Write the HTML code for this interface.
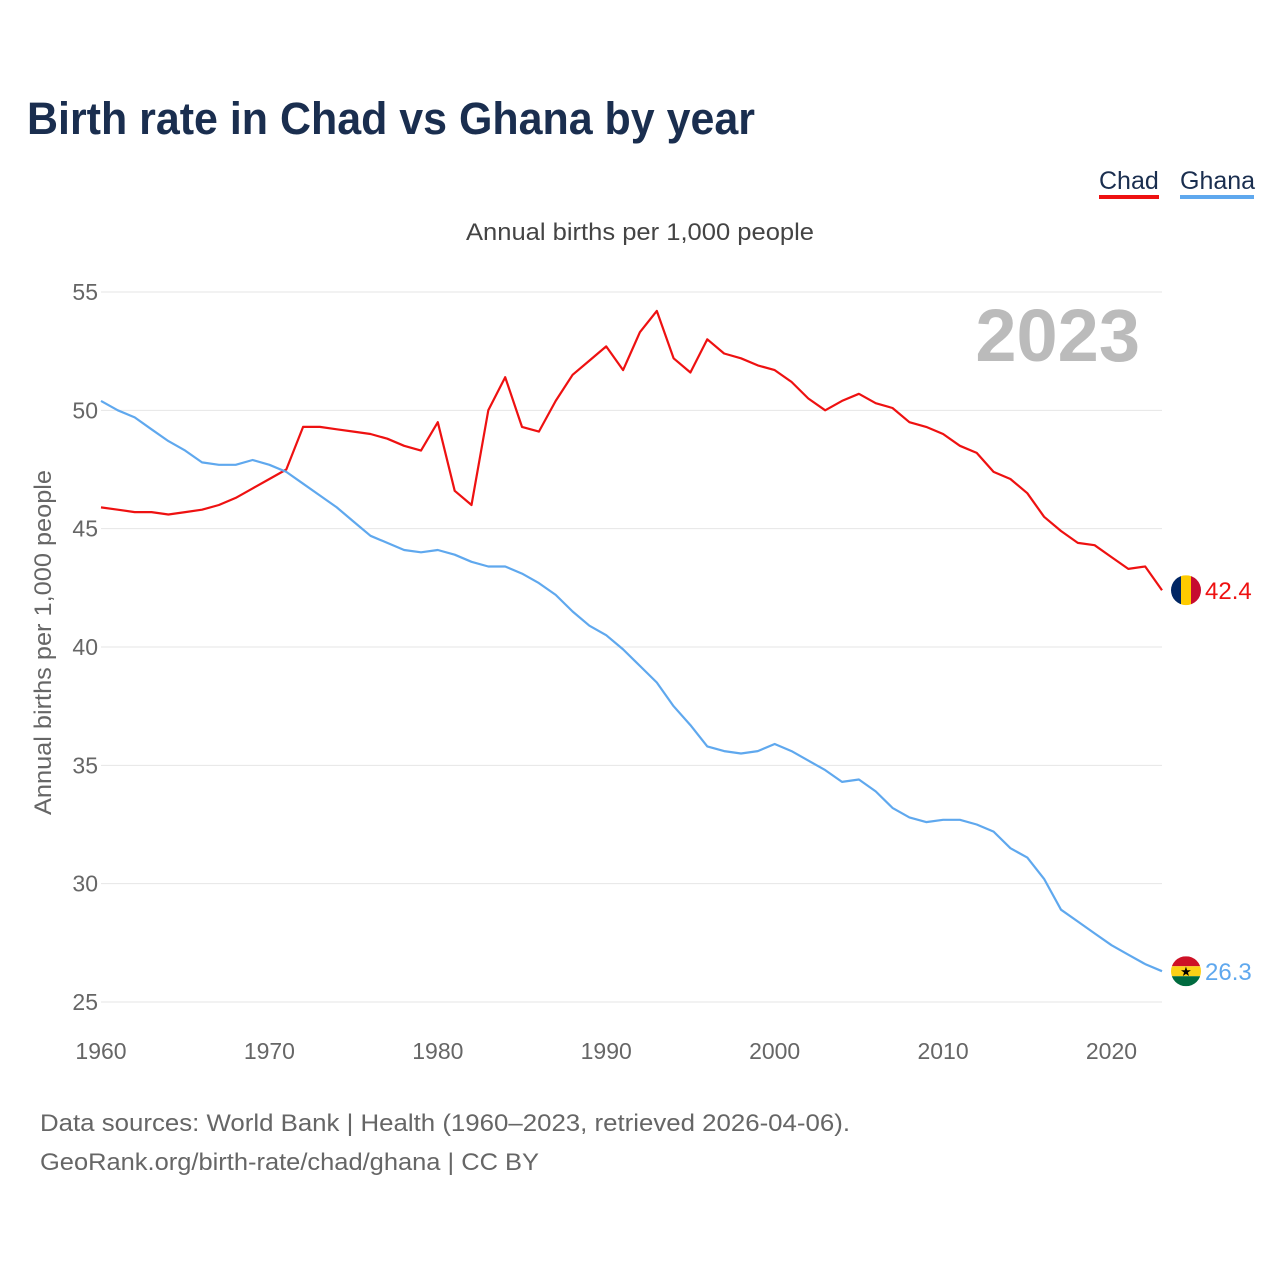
<!DOCTYPE html>
<html><head><meta charset="utf-8">
<style>
body{margin:0;background:#fff;font-family:"Liberation Sans",sans-serif;}
svg text{font-family:"Liberation Sans",sans-serif;}
</style></head>
<body>
<svg id="chart" width="1280" height="1280" viewBox="0 0 1280 1280" xmlns="http://www.w3.org/2000/svg">
<rect width="1280" height="1280" fill="#fff"/>
<text x="27" y="134" font-size="45" font-weight="bold" fill="#1a2e4f" textLength="728" lengthAdjust="spacingAndGlyphs">Birth rate in Chad vs Ghana by year</text>
<text x="1099" y="189" font-size="25" fill="#1a2e4f">Chad</text>
<rect x="1099" y="195" width="60" height="4" fill="#ee1111"/>
<text x="1180" y="189" font-size="25" fill="#1a2e4f">Ghana</text>
<rect x="1180" y="195" width="74" height="4" fill="#5fa8ee"/>
<text x="466" y="240" font-size="24" fill="#444" textLength="348" lengthAdjust="spacingAndGlyphs">Annual births per 1,000 people</text>
<text transform="translate(51,815) rotate(-90)" font-size="24" fill="#666" textLength="345" lengthAdjust="spacingAndGlyphs">Annual births per 1,000 people</text>
<text x="1140" y="361" font-size="74" font-weight="bold" fill="#bbb" text-anchor="end">2023</text>
<g id="grid"></g><g id="series"></g>
<text x="40" y="1131" font-size="24" fill="#666" textLength="810" lengthAdjust="spacingAndGlyphs">Data sources: World Bank | Health (1960–2023, retrieved 2026-04-06).</text>
<text x="40" y="1170" font-size="24" fill="#666" textLength="499" lengthAdjust="spacingAndGlyphs">GeoRank.org/birth-rate/chad/ghana | CC BY</text>
</svg>
<script>
const years = Array.from({length:64},(_,i)=>1960+i);
const chad = [45.9,45.8,45.7,45.7,45.6,45.7,45.8,46.0,46.3,46.7,47.1,47.5,49.3,49.3,49.2,49.1,49.0,48.8,48.5,48.3,49.5,46.6,46.0,50.0,51.4,49.3,49.1,50.4,51.5,52.1,52.7,51.7,53.3,54.2,52.2,51.6,53.0,52.4,52.2,51.9,51.7,51.2,50.5,50.0,50.4,50.7,50.3,50.1,49.5,49.3,49.0,48.5,48.2,47.4,47.1,46.5,45.5,44.9,44.4,44.3,43.8,43.3,43.4,42.4];
const ghana = [50.4,50.0,49.7,49.2,48.7,48.3,47.8,47.7,47.7,47.9,47.7,47.4,46.9,46.4,45.9,45.3,44.7,44.4,44.1,44.0,44.1,43.9,43.6,43.4,43.4,43.1,42.7,42.2,41.5,40.9,40.5,39.9,39.2,38.5,37.5,36.7,35.8,35.6,35.5,35.6,35.9,35.6,35.2,34.8,34.3,34.4,33.9,33.2,32.8,32.6,32.7,32.7,32.5,32.2,31.5,31.1,30.2,28.9,28.4,27.9,27.4,27.0,26.6,26.3];
const yTicks = [25,30,35,40,45,50,55];
const xTicks = [1960,1970,1980,1990,2000,2010,2020];
const NS="http://www.w3.org/2000/svg";
const X0=101,X1=1162,Y0=1002,Y1=292;
function xs(v){return X0+(v-1960)/(2023-1960)*(X1-X0);}
function ys(v){return Y0-(v-25)/(55-25)*(Y0-Y1);}
function mk(tag,attrs,parent,text){const e=document.createElementNS(NS,tag);for(const k in attrs)e.setAttribute(k,attrs[k]);if(text!==undefined)e.textContent=text;parent.appendChild(e);return e;}
const grid=document.getElementById('grid'), ser=document.getElementById('series');
yTicks.forEach(t=>{
  const l=mk('line',{x1:X0,x2:X1,y1:ys(t),y2:ys(t),stroke:'#e6e6e6','stroke-width':1},grid);
  
  
  const tx=mk('text',{x:98,y:ys(t)+8,'font-size':23,fill:'#666','text-anchor':'end'},grid,t);
  
  
});
xTicks.forEach(t=>{
  const tx=mk('text',{x:xs(t),y:1059,'font-size':23,fill:'#666','text-anchor':'middle'},grid,t);
  
  
});
function line(data,color,name){
  const d=data.map((v,i)=>(i?'L':'M')+xs(years[i]).toFixed(1)+' '+ys(v).toFixed(1)).join(' ');
  const p=mk('path',{d:d,fill:'none',stroke:color,'stroke-width':2.2,'stroke-linejoin':'round'},ser);
  
  
}
line(chad,'#ee1111','chad-line');
line(ghana,'#5fa8ee','ghana-line');
const cx=1186, cy1=ys(chad[chad.length-1]), cy2=ys(ghana[ghana.length-1]);
const f1=mk('g',{},ser);


mk('defs',{},f1).innerHTML='<clipPath id="c1"><circle cx="'+cx+'" cy="'+cy1+'" r="15"/></clipPath><clipPath id="c2"><circle cx="'+cx+'" cy="'+cy2+'" r="15"/></clipPath>';
const g1=mk('g',{'clip-path':'url(#c1)'},f1);
mk('rect',{x:cx-15,y:cy1-15,width:10,height:30,fill:'#002664'},g1);
mk('rect',{x:cx-5,y:cy1-15,width:10,height:30,fill:'#fecb00'},g1);
mk('rect',{x:cx+5,y:cy1-15,width:10,height:30,fill:'#c60c30'},g1);
const f2=mk('g',{'clip-path':'url(#c2)'},ser);


mk('rect',{x:cx-15,y:cy2-15,width:30,height:10,fill:'#ce1126'},f2);
mk('rect',{x:cx-15,y:cy2-5,width:30,height:10,fill:'#fcd116'},f2);
mk('rect',{x:cx-15,y:cy2+5,width:30,height:10,fill:'#006b3f'},f2);
mk('text',{x:cx,y:cy2+5,'font-size':13,'text-anchor':'middle',fill:'#000'},f2,'★');
const v1=mk('text',{x:1205,y:cy1+9,'font-size':24,fill:'#ee1111'},ser,chad[chad.length-1].toFixed(1));


const v2=mk('text',{x:1205,y:cy2+9,'font-size':24,fill:'#5fa8ee'},ser,ghana[ghana.length-1].toFixed(1));


</script>
</body></html>
